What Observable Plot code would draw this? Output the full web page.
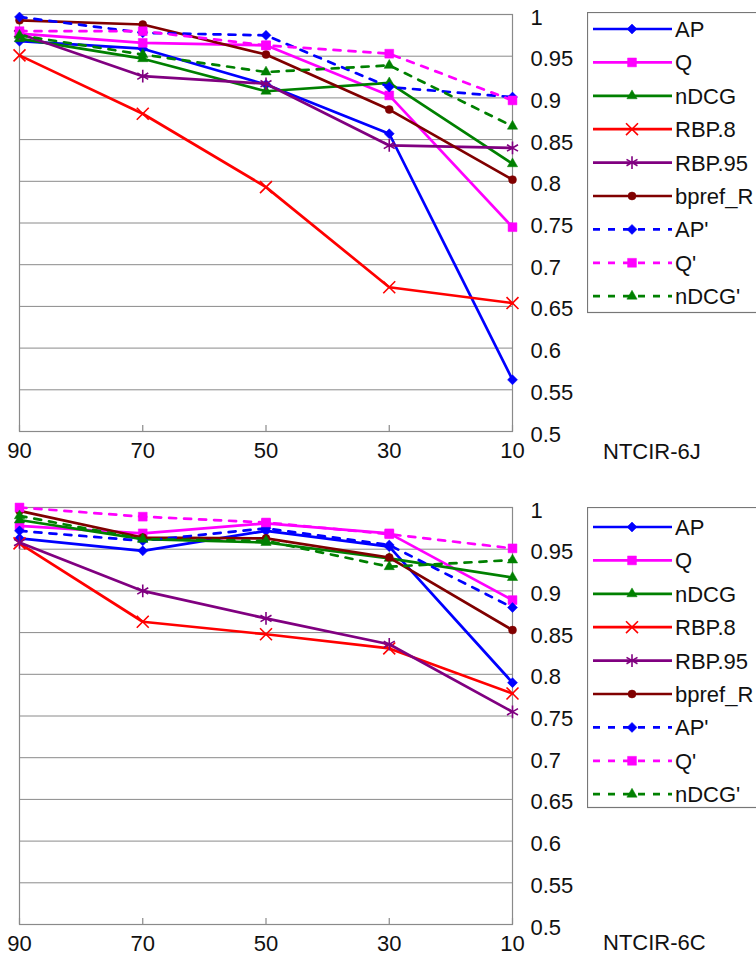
<!DOCTYPE html>
<html>
<head>
<meta charset="utf-8">
<script src="https://cdn.jsdelivr.net/npm/d3@7"></script>
<script src="https://cdn.jsdelivr.net/npm/@observablehq/plot@0.6"></script>
<style>
  html, body { margin: 0; padding: 0; background: #fff; overflow: hidden; }
  #wrap { position: relative; width: 756px; height: 957px; overflow: hidden; font-family: "Liberation Sans", Arial, sans-serif; }
  .panel { position: absolute; left: 0; }
  .legend { position: absolute; left: 587px; }
  .plabel { position: absolute; left: 603px; font-size: 22px; line-height: 22px; color: #111; white-space: nowrap; }
</style>
</head>
<body>
<div id="wrap"></div>
<script>
// ---------- data ----------
const xValues = [90, 70, 50, 30, 10];
const yTicks = [0.5, 0.55, 0.6, 0.65, 0.7, 0.75, 0.8, 0.85, 0.9, 0.95, 1];
const seriesNames = ["AP", "Q", "nDCG", "RBP.8", "RBP.95", "bpref_R", "AP'", "Q'", "nDCG'"];
const panelTitles = ["NTCIR-6J", "NTCIR-6C"];

// NTCIR-6J
const ap6J     = [0.968, 0.959, 0.916, 0.857, 0.562];
const q6J      = [0.977, 0.966, 0.963, 0.903, 0.745];
const ndcg6J   = [0.971, 0.947, 0.908, 0.918, 0.821];
const rbp8_6J  = [0.951, 0.881, 0.793, 0.673, 0.654];
const rbp95_6J = [0.977, 0.926, 0.917, 0.843, 0.840];
const bpref6J  = [0.993, 0.988, 0.952, 0.886, 0.802];
const apP6J    = [0.997, 0.978, 0.975, 0.913, 0.901];
const qP6J     = [0.980, 0.980, 0.963, 0.953, 0.897];
const ndcgP6J  = [0.975, 0.952, 0.931, 0.939, 0.866];

// NTCIR-6C
const ap6C     = [0.963, 0.948, 0.972, 0.953, 0.790];
const q6C      = [0.978, 0.969, 0.981, 0.969, 0.889];
const ndcg6C   = [0.985, 0.962, 0.958, 0.939, 0.916];
const rbp8_6C  = [0.957, 0.863, 0.848, 0.831, 0.777];
const rbp95_6C = [0.958, 0.900, 0.867, 0.836, 0.755];
const bpref6C  = [0.996, 0.964, 0.963, 0.940, 0.853];
const apP6C    = [0.972, 0.960, 0.975, 0.955, 0.880];
const qP6C     = [1.000, 0.989, 0.982, 0.968, 0.951];
const ndcgP6C  = [0.990, 0.962, 0.960, 0.929, 0.937];

const panelValues = [
  [ap6J, q6J, ndcg6J, rbp8_6J, rbp95_6J, bpref6J, apP6J, qP6J, ndcgP6J],
  [ap6C, q6C, ndcg6C, rbp8_6C, rbp95_6C, bpref6C, apP6C, qP6C, ndcgP6C]
];

// ---------- styles ----------
const styles = [
  {color: "#0000ff", symbol: "diamond2", r: 4.5, dashed: false, filled: true},
  {color: "#ff00ff", symbol: "square",   r: 5.0, dashed: false, filled: true},
  {color: "#008000", symbol: "triangle", r: 3.8, dashed: false, filled: true},
  {color: "#ff0000", symbol: "times",    r: 5.5, dashed: false, filled: false},
  {color: "#800080", symbol: "asterisk", r: 6.0, dashed: false, filled: false},
  {color: "#800000", symbol: "circle",   r: 4.0, dashed: false, filled: true},
  {color: "#0000ff", symbol: "diamond2", r: 4.5, dashed: true,  filled: true},
  {color: "#ff00ff", symbol: "square",   r: 5.0, dashed: true,  filled: true},
  {color: "#008000", symbol: "triangle", r: 3.8, dashed: true,  filled: true}
];
const d3Symbols = {
  diamond2: d3.symbolDiamond2, square: d3.symbolSquare, triangle: d3.symbolTriangle,
  times: d3.symbolTimes, asterisk: d3.symbolAsterisk, circle: d3.symbolCircle
};
const DASH = "7,8";
const GRID = "#8a8a8a";
const FONT = "\"Liberation Sans\", Arial, sans-serif";

const wrap = document.getElementById("wrap");

function makePanel(values, top, height, marginBottom) {
  const marks = [
    Plot.gridY(yTicks, {stroke: GRID, strokeOpacity: 1, strokeWidth: 1}),
    Plot.frame({stroke: GRID, strokeWidth: 1.2}),
    Plot.ruleX(xValues, {y1: 0.5, y2: 0.5, insetTop: -6, stroke: GRID, strokeWidth: 1.2})
  ];
  values.forEach((vals, i) => {
    const s = styles[i];
    const rows = xValues.map((x, j) => ({x, y: vals[j]}));
    marks.push(Plot.line(rows, {
      x: "x", y: "y", stroke: s.color, strokeWidth: 2.7,
      strokeDasharray: s.dashed ? DASH : null, strokeLinejoin: "round"
    }));
    marks.push(Plot.dot(rows, {
      x: "x", y: "y", symbol: () => s.symbol, r: s.r,
      fill: s.filled ? s.color : "none",
      stroke: s.color, strokeWidth: s.filled ? 0.5 : 1.6
    }));
  });
  marks.push(Plot.axisY(yTicks, {
    anchor: "right", tickSize: 0, tickPadding: 18, dy: 3,
    tickFormat: d => String(+d.toFixed(2)), label: null, fill: "#111"
  }));
  marks.push(Plot.axisX(xValues, {
    anchor: "bottom", tickSize: 0, tickPadding: 11,
    tickFormat: d => String(d), label: null, fill: "#111"
  }));
  const svg = Plot.plot({
    width: 756, height,
    marginLeft: 19, marginRight: 244, marginTop: 14, marginBottom,
    x: {domain: [90, 10], range: [19, 512]},
    y: {domain: [0.5, 1]},
    style: {fontFamily: FONT, fontSize: "22px", background: "transparent", overflow: "visible"},
    marks
  });
  svg.classList.add("panel");
  svg.style.top = top + "px";
  wrap.appendChild(svg);
}

function makeLegend(top, firstRow, rowGap, boxHeight) {
  const svg = d3.create("svg")
    .attr("class", "legend")
    .attr("width", 200).attr("height", boxHeight + 2)
    .style("top", top + "px")
    .style("font-family", FONT);
  svg.append("rect").attr("x", 0.5).attr("y", 0.5)
    .attr("width", 220).attr("height", boxHeight)
    .attr("fill", "#fff").attr("stroke", "#777").attr("stroke-width", 1.2);
  seriesNames.forEach((name, i) => {
    const s = styles[i];
    const y = firstRow + i * rowGap;
    const g = svg.append("g").attr("transform", `translate(0,${y})`);
    g.append("line").attr("x1", 6).attr("x2", 85).attr("y1", 0).attr("y2", 0)
      .attr("stroke", s.color).attr("stroke-width", 2.7)
      .attr("stroke-dasharray", s.dashed ? DASH : null);
    g.append("path")
      .attr("transform", "translate(45,0)")
      .attr("d", d3.symbol(d3Symbols[s.symbol], Math.PI * s.r * s.r)())
      .attr("fill", s.filled ? s.color : "none")
      .attr("stroke", s.color).attr("stroke-width", s.filled ? 0.5 : 1.6);
    g.append("text").attr("x", 88).attr("y", 0).attr("dy", "0.36em")
      .attr("font-size", 22).attr("fill", "#111").text(name);
  });
  wrap.appendChild(svg.node());
}

function makeLabel(text, top) {
  const d = document.createElement("div");
  d.className = "plabel";
  d.style.top = top + "px";
  d.textContent = text;
  wrap.appendChild(d);
}

makePanel(panelValues[0], 0, 470, 39);
makePanel(panelValues[1], 493, 464, 33);
makeLegend(12, 17, 33.4, 300);
makeLegend(507, 20, 33.4, 300);
makeLabel(panelTitles[0], 441);
makeLabel(panelTitles[1], 932);
</script>
</body>
</html>
